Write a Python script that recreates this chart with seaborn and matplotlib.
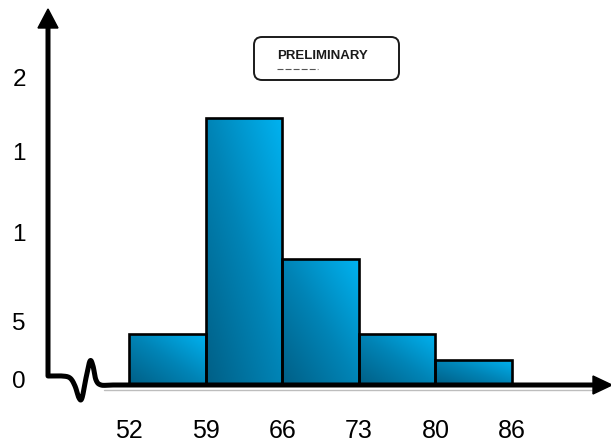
import numpy as np
import pandas as pd
import matplotlib
matplotlib.use("Agg")
import matplotlib.pyplot as plt
from matplotlib.colors import LinearSegmentedColormap
from matplotlib.patches import FancyBboxPatch, Polygon
import seaborn as sns

# Histogram bins (edge labels) and class frequencies
bin_edges = ["52", "59", "66", "73", "80", "86"]
bin_names = ["52-59", "59-66", "66-73", "73-80", "80-86"]
frequency = [3.3, 17.4, 8.2, 3.3, 1.6]

# Vertical-axis labels as printed, with the heights they sit at
y_tick_labels = ["0", "5", "1", "1", "2"]
y_tick_pos = [0.3, 4.1, 9.9, 15.2, 20.0]

W, H = 611, 446
sns.set_theme(style="white")
plt.rcParams["font.family"] = ["Liberation Sans", "DejaVu Sans"]
plt.rcParams["lines.scale_dashes"] = False

fig = plt.figure(figsize=(W / 100, H / 100), dpi=100)
fig.patch.set_facecolor("white")

# frame geometry (pixels)
x0_px, base_px = 48, 384
unit_x, unit_y = 76.6, 15.3
first_edge_px = 129

ax = fig.add_axes([x0_px / W, (H - base_px) / H, (W - x0_px) / W, base_px / H])
df = pd.DataFrame({"bin": bin_names, "freq": frequency})
sns.barplot(data=df, x="bin", y="freq", width=1.0, ax=ax, color="#0090c8",
            saturation=1, edgecolor="black", linewidth=1.9)

xlim = ((x0_px - first_edge_px) / unit_x - 0.5, (W - first_edge_px) / unit_x - 0.5)
ylim = (0, base_px / unit_y)

# diagonal blue gradient inside every bar
cmap = LinearSegmentedColormap.from_list("bar", ["#005f86", "#0084b6", "#00b3f1"])
g = np.linspace(0, 1, 200)
uu, vv = np.meshgrid(g, g)
grad = (uu + vv) / 2
for p in ax.patches:
    x, y, w, h = p.get_x(), p.get_y(), p.get_width(), p.get_height()
    im = ax.imshow(grad, extent=(x, x + w, y, y + h), origin="lower", cmap=cmap,
                   aspect="auto", interpolation="bilinear", zorder=1.5)
    im.set_clip_path(p)
    p.set_facecolor("none")
    p.set_zorder(2)

ax.set_xlim(*xlim)
ax.set_ylim(*ylim)
ax.set_xticks(np.arange(len(bin_edges)) - 0.5)
ax.set_xticklabels(bin_edges)
ax.set_yticks(y_tick_pos)
ax.set_yticklabels(y_tick_labels)
ax.tick_params(axis="x", length=0, pad=25.5, labelsize=18, colors="black")
ax.tick_params(axis="y", length=0, pad=16, labelsize=17.5, colors="black")
ax.set_xlabel("")
ax.set_ylabel("")
for s in ax.spines.values():
    s.set_visible(False)
ax.set_facecolor("none")
ax.grid(False)

# hand-drawn axes with a break mark, in pixel space
deco = fig.add_axes([0, 0, 1, 1], zorder=5)
deco.set_xlim(0, W)
deco.set_ylim(H, 0)
deco.axis("off")
deco.patch.set_alpha(0)


def catmull(pts, n=14):
    pts = np.asarray(pts, float)
    p = np.vstack([pts[0], pts, pts[-1]])
    out = []
    t = np.linspace(0, 1, n, endpoint=False)[:, None]
    for i in range(1, len(p) - 2):
        p0, p1, p2, p3 = p[i - 1], p[i], p[i + 1], p[i + 2]
        out.append(0.5 * (2 * p1 + (-p0 + p2) * t + (2 * p0 - 5 * p1 + 4 * p2 - p3) * t ** 2
                          + (-p0 + 3 * p1 - 3 * p2 + p3) * t ** 3))
    out.append(p[-2][None])
    return np.vstack(out)


wiggle = catmull([(48, 376), (62, 376), (70, 378), (75, 386), (79, 398), (82, 398),
                  (86, 378), (90, 361), (93, 366), (96, 380), (101, 385), (112, 385),
                  (130, 385)])
path = np.vstack([[(48, 26)], wiggle, [(597, 385)]])
deco.plot(path[:, 0], path[:, 1], color="black", lw=3.6,
          solid_joinstyle="round", solid_capstyle="butt")
deco.plot([104, 597], [389.5, 389.5], color="#bdbdbd", lw=1.0, zorder=0)
deco.add_patch(Polygon([(48, 9), (38, 28), (58, 28)], closed=True, color="black"))
deco.add_patch(Polygon([(612, 385), (593, 376), (593, 394)], closed=True, color="black"))

# "PRELIMINARY" stamp
deco.add_patch(FancyBboxPatch((254, 37), 145, 43, boxstyle="round,pad=0,rounding_size=8",
                              facecolor="white", edgecolor="#1a1a1a", lw=1.4))
deco.text(277, 56, "PRELIMINARY", ha="left", va="center", fontsize=9.5,
          fontweight="bold", color="#1a1a1a")
deco.plot([277, 318], [69, 69], color="#555555", lw=0.8, dashes=(4.3, 1.5))

fig.savefig("out.png", dpi=100, facecolor="white")
